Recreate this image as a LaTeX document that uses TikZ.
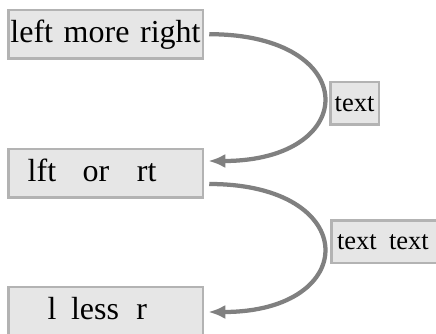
\documentclass[tikz,border=0pt]{standalone}
\usepackage{fontspec}
\setmainfont{Liberation Serif}
\usetikzlibrary{arrows.meta}
\definecolor{boxfill}{HTML}{E6E6E6}
\definecolor{boxline}{HTML}{B3B3B3}
\definecolor{conncol}{HTML}{808080}
\begin{document}
\begin{tikzpicture}[x=1pt,y=-1pt,
  box/.style={draw=boxline, line width=2.5pt, fill=boxfill, minimum height=48.5pt,
    inner sep=0pt, text width=194.5pt, text height=22pt, text depth=4.5pt,
    font=\fontsize{32}{36}\selectfont},
  lab/.style={draw=boxline, line width=2.5pt, fill=boxfill, minimum height=42.5pt,
    inner sep=0pt, text height=18.5pt, text depth=3pt,
    font=\fontsize{26.5}{30}\selectfont},
  conn/.style={draw=conncol, line width=4.25pt, -{Latex[length=17pt,width=14pt]}}]
\useasboundingbox (0,0) rectangle (436,334);
\fill[white] (0,0) rectangle (436,334);
\node[box, align=center] (b1) at (105.5,34.2) {left more right};
\node[box, align=left] (b2) at (105.5,173) {\hspace*{19.45pt}lft\hspace{26.5pt}or\hspace{27.7pt}rt};
\node[box, align=left] (b3) at (105.5,311) {\hspace*{39.45pt}l\hspace{14.5pt}less\hspace{17.4pt}r};
\node[lab, minimum width=48.5pt] (l1) at (354.5,103.5) {text};
\node[lab, text width=130pt, align=left, anchor=west] (l2) at (330.25,241.5) {\hspace*{5.5pt}text\hspace{12.3pt}text};
\draw[conn] ([xshift=5.25pt]b1.east) .. controls +(153,0) and +(153,0) .. ([xshift=4.25pt,yshift=12pt]b2.east);
\draw[conn] ([xshift=5.25pt,yshift=-11pt]b2.east) .. controls +(153,0) and +(153,0) .. ([xshift=4.25pt,yshift=-1pt]b3.east);
\end{tikzpicture}
\end{document}
